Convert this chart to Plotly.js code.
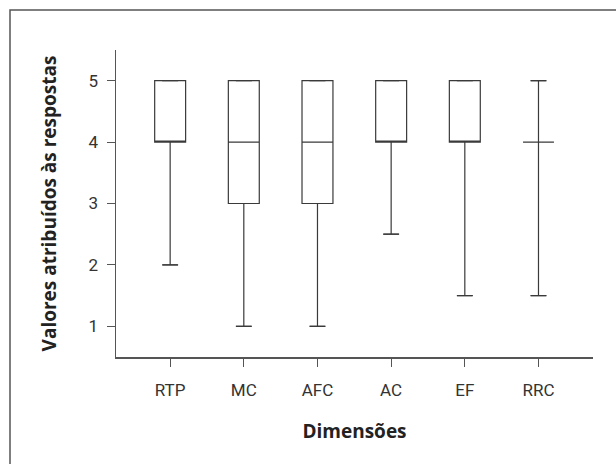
<!DOCTYPE html>
<html>
<head>
<meta charset="utf-8">
<script src="https://cdn.plot.ly/plotly-3.0.1.min.js"></script>
<style>
  html, body { margin: 0; padding: 0; background: #fff; overflow: hidden; }
  #chart { width: 616px; height: 464px; }
</style>
</head>
<body>
<div id="chart"></div>
<script>
// Data
const categories = ['RTP', 'MC', 'AFC', 'AC', 'EF', 'RRC'];
const lowWhisker = [2, 1, 1, 2.5, 1.5, 1.5];
const q1Values = [4, 3, 3, 4, 4, 4];
const medianValues = [4, 4, 4, 4, 4, 4];
const q3Values = [5, 5, 5, 5, 5, 4];
const highWhisker = [5, 5, 5, 5, 5, 5];
const yTickValues = [1, 2, 3, 4, 5];

const W = 616, H = 464;
const margin = { l: 116, r: 23, t: 50, b: 107 };
const lineColor = '#3a3a3a';
const axisColor = '#555555';
const tickFamily = 'Roboto, Arial, sans-serif';

const boxTrace = {
  type: 'box',
  x: categories,
  q1: q1Values,
  median: medianValues,
  q3: q3Values,
  lowerfence: lowWhisker,
  upperfence: highWhisker,
  width: 0.42,
  boxpoints: false,
  fillcolor: '#ffffff',
  line: { color: lineColor, width: 1.2 },
  hoverinfo: 'skip',
  showlegend: false
};

// whisker caps at both whisker ends
const capX = categories.concat(categories);
const capY = lowWhisker.concat(highWhisker);
const capTrace = {
  type: 'scatter',
  mode: 'markers',
  x: capX,
  y: capY,
  marker: {
    symbol: 'line-ew',
    size: 11.4,
    color: lineColor,
    line: { color: lineColor, width: 1.2 }
  },
  hoverinfo: 'skip',
  showlegend: false
};

const plotW = W - margin.l - margin.r;
const plotH = H - margin.t - margin.b;

const layout = {
  width: W,
  height: H,
  margin: margin,
  paper_bgcolor: '#ffffff',
  plot_bgcolor: '#ffffff',
  showlegend: false,
  xaxis: {
    type: 'category',
    range: [-0.735, 5.74],
    showgrid: false,
    zeroline: false,
    showline: true,
    linecolor: axisColor,
    linewidth: 1.5,
    ticks: 'outside',
    ticklen: 8,
    tickwidth: 1.2,
    tickcolor: axisColor,
    ticklabelstandoff: 9,
    tickfont: { family: tickFamily, size: 17, color: '#333333' },
    title: {
      text: 'Dimensões',
      standoff: 26,
      font: { family: 'Open Sans, sans-serif', size: 19, color: '#222222', weight: 'bold' }
    },
    fixedrange: true
  },
  yaxis: {
    range: [0.5, 5.5],
    tickvals: yTickValues,
    ticktext: yTickValues.map(String),
    showgrid: false,
    zeroline: false,
    showline: true,
    linecolor: axisColor,
    linewidth: 1.5,
    ticks: 'outside',
    ticklen: 8,
    tickwidth: 1.2,
    tickcolor: axisColor,
    ticklabelstandoff: 5,
    tickfont: { family: tickFamily, size: 17, color: '#333333' },
    title: {
      text: 'Valores atribuídos às respostas',
      standoff: 27,
      font: { family: 'Open Sans, sans-serif', size: 19, color: '#222222', weight: 'bold' }
    },
    fixedrange: true
  },
  shapes: [{
    type: 'rect',
    xref: 'paper', yref: 'paper',
    x0: (10 - margin.l) / plotW,
    x1: (W + 20 - margin.l) / plotW,
    y0: -(H + 20 - (H - margin.b)) / plotH,
    y1: 1 + (margin.t - 10) / plotH,
    line: { color: '#555555', width: 1.5 },
    fillcolor: 'rgba(0,0,0,0)',
    layer: 'below'
  }]
};

Plotly.newPlot('chart', [boxTrace, capTrace], layout, { displayModeBar: false, staticPlot: true });
</script>
</body>
</html>
